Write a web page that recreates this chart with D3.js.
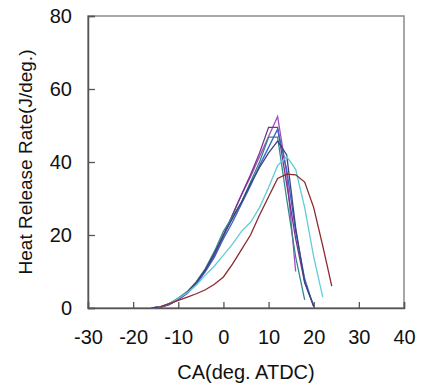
<!DOCTYPE html>
<html>
<head>
<meta charset="utf-8">
<script src="https://cdn.jsdelivr.net/npm/d3@7"></script>
<style>
  body { margin: 0; background: #fff; }
  svg { display: block; font-family: Arial, "Liberation Sans", sans-serif; }
</style>
</head>
<body>
<div id="chart"></div>
<script>
// crank angle samples (deg. ATDC)
const ca = [-16, -14, -12, -10, -8, -6, -4, -2, 0, 2, 4, 6, 8, 10, 12, 14, 16, 18, 20, 22, 24];

const violet = [0, 0.2, 0.9, 2.3, 4, 6.5, 10, 14, 19.5, 25.5, 31, 36, 41.5, 47, 52.5, 37, 10];
const purple = [0, 0.2, 1, 2.4, 4.2, 6.8, 10.2, 14.5, 20, 25.5, 31, 36.5, 42.5, 49.5, 49.5, 34, 19, 7, 0.5];
const teal = [0, 0.3, 1.2, 2.7, 4.5, 7.2, 10.8, 15.5, 21, 25, 29, 34.5, 40, 46.8, 46.8, 30, 14, 2.2];
const blue = [0, 0.2, 1, 2.4, 4.2, 6.7, 10, 14, 19, 23.5, 28.5, 33.5, 39, 44, 49, 38, 21, 8, 0.3];
const navy = [0, 0.3, 1.1, 2.6, 4.4, 7, 10.5, 15, 20, 24.5, 29, 34, 38.5, 42.5, 45.7, 42, 22, 7, 0.5];
const cyan = [0, 0.3, 1.2, 2.6, 4.2, 6.3, 9, 11.5, 14.5, 17.5, 21, 23.5, 27.5, 33, 39, 41.5, 38, 27.5, 14, 3];
const darkred = [0, 0.3, 1.2, 2.1, 3, 3.9, 5, 6.5, 8.5, 12, 16, 20, 25.5, 30.5, 35.5, 36.7, 36.5, 34.5, 27.5, 17, 6];

const seriesNames = ['violet', 'purple', 'teal', 'blue', 'navy', 'cyan', 'darkred'];
const seriesValues = [violet, purple, teal, blue, navy, cyan, darkred];
const seriesColors = ['#a24cc0', '#7b2f8f', '#2f8a8a', '#3c62c8', '#3b4577', '#62ccd6', '#8c2a2e'];

const xTicks = [-30, -20, -10, 0, 10, 20, 30, 40];
const yTicks = [0, 20, 40, 60, 80];

const width = 422;
const height = 383;
const margin = { top: 16, right: 18, bottom: 75, left: 88 };

const svg = d3.select('#chart')
    .append('svg')
    .attr('width', width)
    .attr('height', height);

const x = d3.scaleLinear()
    .domain([-30, 40])
    .range([margin.left, width - margin.right]);

const y = d3.scaleLinear()
    .domain([0, 80])
    .range([height - margin.bottom, margin.top]);

// frame
svg.append('rect')
    .attr('x', margin.left)
    .attr('y', margin.top)
    .attr('width', width - margin.left - margin.right)
    .attr('height', height - margin.top - margin.bottom)
    .attr('fill', 'none')
    .attr('stroke', '#8a8a8a')
    .attr('stroke-width', 1.5);

const xAxis = d3.axisBottom(x).tickValues(xTicks).tickFormat(d => String(d)).tickSize(-6).tickPadding(22);
const yAxis = d3.axisLeft(y).tickValues(yTicks).tickFormat(d => String(d)).tickSize(-7).tickPadding(16);

svg.append('g')
    .attr('transform', `translate(0,${height - margin.bottom})`)
    .call(xAxis)
    .call(g => g.select('.domain').attr('stroke', '#555').attr('stroke-width', 1.5))
    .call(g => g.selectAll('.tick line').attr('stroke', '#555').attr('stroke-width', 1.3))
    .call(g => g.selectAll('.tick text')
        .attr('font-size', 20)
        .attr('fill', '#111')
        .attr('font-family', 'Arial, "Liberation Sans", sans-serif'));

svg.append('g')
    .attr('transform', `translate(${margin.left},0)`)
    .call(yAxis)
    .call(g => g.select('.domain').attr('stroke', '#555').attr('stroke-width', 1.5))
    .call(g => g.selectAll('.tick line').attr('stroke', '#555').attr('stroke-width', 1.3))
    .call(g => g.selectAll('.tick text')
        .attr('font-size', 20)
        .attr('fill', '#111')
        .attr('font-family', 'Arial, "Liberation Sans", sans-serif'));

const line = d3.line()
    .x((d, i) => x(ca[i]))
    .y(d => y(d));

svg.append('g')
    .attr('fill', 'none')
    .attr('stroke-width', 1.3)
    .selectAll('path')
    .data(seriesValues)
    .join('path')
    .attr('class', (d, i) => seriesNames[i])
    .attr('stroke', (d, i) => seriesColors[i])
    .attr('d', line);

// axis titles
svg.append('text')
    .attr('x', (margin.left + width - margin.right) / 2)
    .attr('y', 379)
    .attr('text-anchor', 'middle')
    .attr('font-size', 20)
    .attr('fill', '#111')
    .text('CA(deg. ATDC)');

svg.append('text')
    .attr('transform', `translate(32,${(margin.top + height - margin.bottom) / 2}) rotate(-90)`)
    .attr('text-anchor', 'middle')
    .attr('font-size', 19)
    .attr('fill', '#111')
    .text('Heat Release Rate(J/deg.)');
</script>
</body>
</html>
